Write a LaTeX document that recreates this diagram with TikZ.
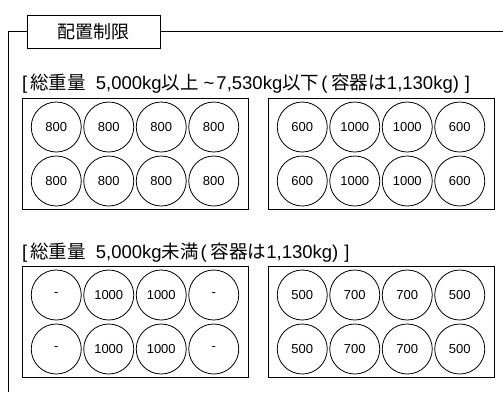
\documentclass[tikz,border=0pt]{standalone}
\usepackage{fontspec}
\setmainfont{Liberation Sans}
\newfontfamily\jp{Noto Sans CJK JP}

\begin{document}
\begin{tikzpicture}[x=1pt,y=-1pt,
    tray/.style={draw,line width=0.9pt,minimum width=226pt,minimum height=111pt,anchor=north west,inner sep=0pt},
    can/.style={draw,circle,minimum size=50pt,inner sep=0pt,line width=0.8pt,font=\fontsize{13}{13}\selectfont},
    caption/.style={anchor=west,inner sep=0pt,font=\fontsize{18.5}{18.5}\selectfont}]
    \useasboundingbox (0,0) rectangle (503,392);
    % frame and title
    \node[draw,line width=0.9pt,minimum width=133pt,minimum height=33pt,inner sep=0pt,
          font=\jp\fontsize{18}{18}\selectfont] (title) at (93.5,31.5) {配置制限};
    \coordinate (fl) at (8,392);
    \coordinate (fr) at (503,31.5);
    \draw[line width=0.9pt] (title.west) -| (fl);
    \draw[line width=0.9pt] (title.east) -- (fr);
    % captions
    \node[caption] (cap1) at (22,84) {[\hspace{3pt}{\jp 総重量}\hspace{10pt}5,000kg{\jp 以上}\hspace{5pt}\textasciitilde\hspace{2pt}7,530kg{\jp 以下}\hspace{2pt}(\hspace{4pt}{\jp 容器は}1,130kg)\hspace{6pt}]};
    \node[caption] (cap2) at (22,253) {[\hspace{3pt}{\jp 総重量}\hspace{10pt}5,000kg{\jp 未満}\hspace{2pt}(\hspace{4pt}{\jp 容器は}1,130kg)\hspace{6pt}]};
    % trays
    \node[tray] (trayA) at (22,98) {};
    \node[tray] (trayB) at (268,98) {};
    \node[tray] (trayC) at (22,266) {};
    \node[tray] (trayD) at (268,266) {};
    % containers
    \foreach \bx/\cy/\nm/\vals in {
        22/127/a1/{800,800,800,800}, 22/181/a2/{800,800,800,800},
        268/127/b1/{600,1000,1000,600}, 268/181/b2/{600,1000,1000,600},
        22/295/c1/{-,1000,1000,-}, 22/349/c2/{-,1000,1000,-},
        268/295/d1/{500,700,700,500}, 268/349/d2/{500,700,700,500}}
        \foreach \v [count=\i] in \vals
            \node[can] (\nm\i) at ({\bx+34.25+52.5*(\i-1)},\cy) {\v};
\end{tikzpicture}
\end{document}
